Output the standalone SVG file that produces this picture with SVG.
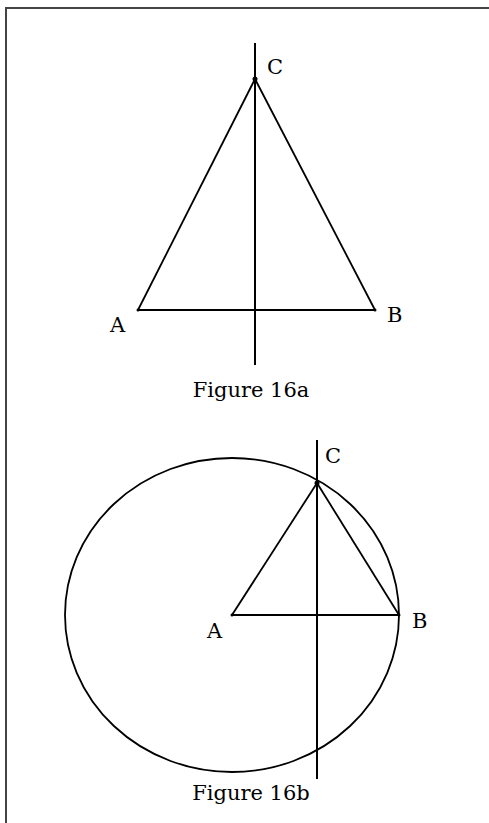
<svg xmlns="http://www.w3.org/2000/svg" width="489" height="823" viewBox="0 0 489 823">
<style>
.frame{stroke:#444;stroke-width:2;fill:none}
.ln{stroke:#000;stroke-width:1.8;fill:none}
.ax{stroke:#000;stroke-width:2;fill:none}
.lbl{font-family:"DejaVu Serif","Liberation Serif",serif;font-size:21px;fill:#000}
.cap{font-family:"DejaVu Serif","Liberation Serif",serif;font-size:21px;fill:#000}
</style>
<rect width="489" height="823" fill="#fff"/>
<path class="frame" d="M6,823 V8 H489"/>
<g id="fig16a">
<g id="connectors-a">
<line class="ax" x1="255" y1="43" x2="255" y2="365"/>
<line class="ln" x1="255" y1="79" x2="138" y2="310"/>
<line class="ln" x1="255" y1="79" x2="375" y2="310"/>
<line class="ax" x1="138" y1="310" x2="375" y2="310"/>
</g>
<g id="pointC-a"><circle cx="255" cy="79" r="2.5"/><text class="lbl" x="267" y="74">C</text></g>
<g id="pointA-a"><circle cx="138" cy="310" r="1.5"/><text class="lbl" x="110" y="332">A</text></g>
<g id="pointB-a"><circle cx="375" cy="310" r="1.5"/><text class="lbl" x="387" y="322">B</text></g>
<text class="cap" x="251" y="397" text-anchor="middle">Figure 16a</text>
</g>
<g id="fig16b">
<g id="connectors-b">
<ellipse class="ln" cx="232" cy="615" rx="167" ry="157"/>
<line class="ax" x1="317" y1="440" x2="317" y2="779"/>
<line class="ln" x1="317" y1="483" x2="232" y2="615"/>
<line class="ln" x1="317" y1="483" x2="399" y2="615"/>
<line class="ax" x1="232" y1="615" x2="399" y2="615"/>
</g>
<g id="pointC-b"><circle cx="317" cy="483" r="2.5"/><text class="lbl" x="325" y="463">C</text></g>
<g id="pointA-b"><circle cx="232" cy="615" r="1.5"/><text class="lbl" x="207" y="638">A</text></g>
<g id="pointB-b"><circle cx="399" cy="615" r="1.5"/><text class="lbl" x="412" y="628">B</text></g>
<text class="cap" x="251" y="800" text-anchor="middle">Figure 16b</text>
</g>
</svg>
